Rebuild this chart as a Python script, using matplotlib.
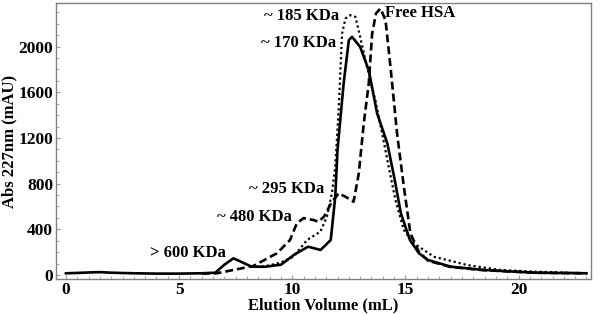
# SEC elution profiles, three samples, Abs 227 nm vs elution volume
import matplotlib.pyplot as plt
from matplotlib.ticker import MultipleLocator

plt.rcParams['font.family'] = ['Liberation Serif', 'DejaVu Serif']
plt.rcParams['font.weight'] = 'bold'

# solid trace
solid_x = [0, 0.5, 1.0, 1.5, 2.0, 3.0, 4.0, 5.0, 6.0, 6.6, 7.0, 7.4, 7.8, 8.2, 8.8,
           9.5, 10.1, 10.7, 11.25, 11.7, 11.9, 12.0, 12.27, 12.5, 12.64, 13.0, 13.38,
           13.75, 14.2, 14.5, 14.8, 15.2, 15.6, 16.0, 17.0, 18.45, 20.7, 23.0]
solid_y = [15, 18, 22, 25, 20, 15, 12, 12, 15, 20, 90, 146, 110, 73, 72,
           90, 180, 248, 219, 306, 685, 1094, 1677, 2056, 2085, 1997, 1793,
           1415, 1152, 860, 540, 306, 190, 131, 73, 44, 20, 15]

# dashed trace
dash_x = [6.0, 6.67, 7.4, 8.28, 9.32, 9.9, 10.2, 10.5, 10.94, 11.15, 11.4, 11.75,
          12.05, 12.35, 12.71, 12.94, 13.16, 13.38, 13.53, 13.7, 13.9, 14.12, 14.34,
          14.63, 14.93, 15.22, 15.6, 16.0, 17.0, 18.45, 20.7, 23.0]
dash_y = [12, 15, 44, 79, 190, 306, 452, 498, 481, 466, 510, 640,
          715, 685, 641, 890, 1327, 1677, 2114, 2290, 2333, 2231, 1822,
          1240, 773, 365, 200, 125, 70, 42, 20, 15]

# dotted trace
dot_x = [8.2, 8.6, 9.0, 9.5, 10.06, 10.65, 11.24, 11.53, 11.75, 11.9, 12.05, 12.2,
         12.35, 12.57, 12.79, 13.0, 13.3, 13.67, 13.97, 14.26, 14.56, 14.93, 15.37,
         16.26, 17.73, 19.2, 20.7, 23.0]
dot_y = [73, 72, 85, 110, 160, 306, 379, 510, 715, 948, 1444, 2114,
         2245, 2275, 2260, 2085, 1822, 1531, 1240, 948, 656, 394, 277,
         160, 87, 44, 29, 15]

labels = ['~ 185 KDa', '~ 170 KDa', 'Free HSA', '~ 295 KDa', '~ 480 KDa', '> 600 KDa']
label_x = [12.05, 11.95, 14.1, 11.4, 10.0, 7.05]
label_y = [2270, 2030, 2290, 750, 510, 195]
label_ha = ['right', 'right', 'left', 'right', 'right', 'right']

fig = plt.figure(figsize=(6, 3.14), dpi=100)
ax = fig.add_axes([0.0933, 0.1115, 0.8917, 0.8785])

ax.plot(solid_x, solid_y, color='black', lw=1.9, ls='-')
ax.plot(dash_x, dash_y, color='black', lw=1.9, ls=(0, (3, 1.5)))
ax.plot(dot_x, dot_y, color='black', lw=1.6, ls=(0, (1, 1.3)))

for t, x, y, ha in zip(labels, label_x, label_y, label_ha):
    ax.text(x, y, t, ha=ha, va='center', fontsize=12, fontweight='bold')

ax.set_xlim(-0.44, 23.2)
ax.set_ylim(-35, 2380)
ax.set_xticks([0, 5, 10, 15, 20])
ax.set_yticks([0, 400, 800, 1200, 1600, 2000])
ax.xaxis.set_minor_locator(MultipleLocator(0.5))
ax.yaxis.set_minor_locator(MultipleLocator(100))
ax.tick_params(which='both', direction='in', color='#999999', labelsize=12.5)
ax.tick_params(which='major', length=3, width=0.8, pad=2)
ax.tick_params(which='minor', length=2, width=0.6)
for s in ax.spines.values():
    s.set_color('#808080')
    s.set_linewidth(1.0)

ax.set_xlabel('Elution Volume (mL)', fontsize=12, fontweight='bold', labelpad=0)
ax.set_ylabel('Abs 227nm (mAU)', fontsize=12, fontweight='bold', labelpad=1)

fig.savefig('out.png', dpi=100)
